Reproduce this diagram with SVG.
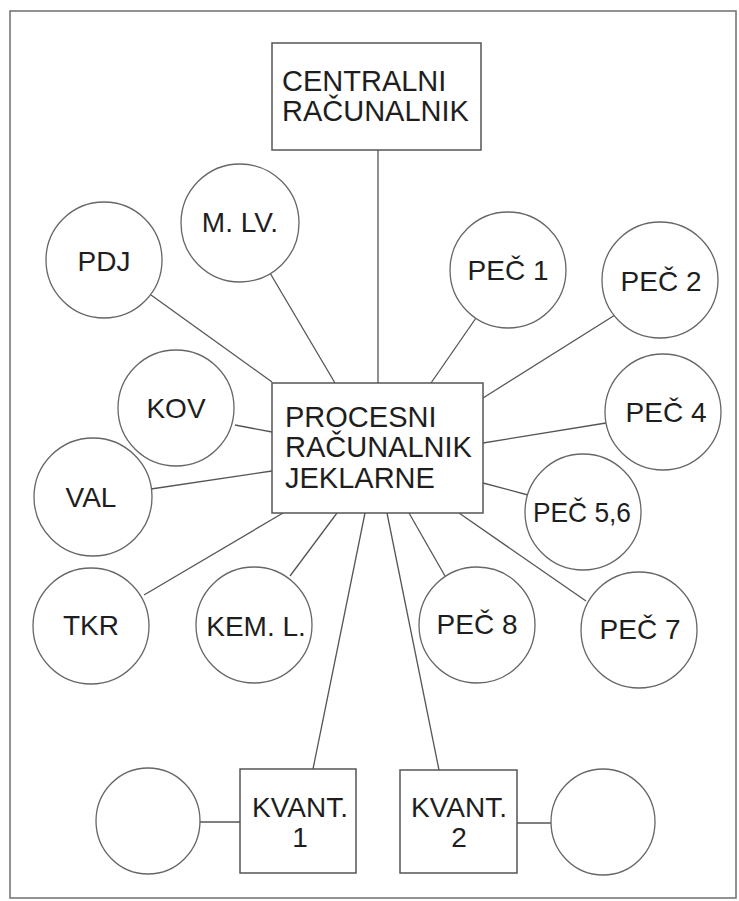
<svg xmlns="http://www.w3.org/2000/svg" width="739" height="901" viewBox="0 0 739 901">
<style>
.frame{fill:none;stroke:#777;stroke-width:1.6}
.box{fill:#fff;stroke:#555;stroke-width:1.5}
.node{fill:#fff;stroke:#666;stroke-width:1.3}
.conn line{stroke:#555;stroke-width:1.3}
text{font-family:"Liberation Sans",Arial,sans-serif;font-size:28px;fill:#1e1e1e}
.c{text-anchor:middle}
.big{font-size:29px}
</style>
<rect width="739" height="901" fill="#fff"/>
<rect class="frame" x="10" y="11" width="726" height="887"/>
<g id="connectors" class="conn">
<line x1="378" y1="150" x2="378" y2="383"/>
<line x1="151" y1="295" x2="272" y2="382"/>
<line x1="270" y1="273" x2="335" y2="383"/>
<line x1="476" y1="318" x2="431" y2="383"/>
<line x1="615" y1="315" x2="483" y2="398"/>
<line x1="235" y1="425" x2="272" y2="432"/>
<line x1="151" y1="489" x2="272" y2="471"/>
<line x1="606" y1="423" x2="483" y2="443"/>
<line x1="483" y1="483" x2="528" y2="495"/>
<line x1="283" y1="513" x2="144" y2="595"/>
<line x1="337" y1="513" x2="290" y2="576"/>
<line x1="365" y1="513" x2="313" y2="769"/>
<line x1="387" y1="513" x2="439" y2="770"/>
<line x1="409" y1="513" x2="445" y2="576"/>
<line x1="459" y1="513" x2="586" y2="601"/>
<line x1="200" y1="822" x2="240" y2="822"/>
<line x1="517" y1="823" x2="552" y2="823"/>
</g>
<g id="centralni"><rect class="box" x="272" y="43" width="209" height="107"/><text class="big" x="282" y="91">CENTRALNI</text><text class="big" x="282" y="121">RAČUNALNIK</text></g>
<g id="procesni"><rect class="box" x="272" y="383" width="211" height="130"/><text class="big" x="285" y="427">PROCESNI</text><text class="big" x="285" y="457">RAČUNALNIK</text><text class="big" x="285" y="488">JEKLARNE</text></g>
<g id="pdj"><circle class="node" cx="104" cy="260" r="58"/><text class="c" x="104" y="271">PDJ</text></g>
<g id="mlv"><circle class="node" cx="240" cy="223" r="59"/><text class="c" x="240" y="232">M. LV.</text></g>
<g id="pec1"><circle class="node" cx="508" cy="270" r="58"/><text class="c" x="508" y="280">PEČ 1</text></g>
<g id="pec2"><circle class="node" cx="660" cy="280" r="58"/><text class="c" x="661" y="291">PEČ 2</text></g>
<g id="kov"><circle class="node" cx="176" cy="408" r="58"/><text class="c" x="176" y="418">KOV</text></g>
<g id="val"><circle class="node" cx="93" cy="497" r="59"/><text class="c" x="91" y="507">VAL</text></g>
<g id="pec4"><circle class="node" cx="663" cy="412" r="58"/><text class="c" x="666" y="422">PEČ 4</text></g>
<g id="pec56"><circle class="node" cx="583" cy="512" r="58"/><text class="c" x="582" y="522" textLength="98" lengthAdjust="spacingAndGlyphs">PEČ 5,6</text></g>
<g id="tkr"><circle class="node" cx="91" cy="626" r="58"/><text class="c" x="91" y="635">TKR</text></g>
<g id="keml"><circle class="node" cx="254" cy="625" r="58"/><text class="c" x="256" y="636">KEM. L.</text></g>
<g id="pec8"><circle class="node" cx="477" cy="625" r="58"/><text class="c" x="477" y="634">PEČ 8</text></g>
<g id="pec7"><circle class="node" cx="639" cy="630" r="58"/><text class="c" x="640" y="639">PEČ 7</text></g>
<g id="kvant1"><rect class="box" x="240" y="769" width="116" height="104"/><text class="c" x="300" y="817">KVANT.</text><text class="c" x="300" y="847">1</text></g>
<g id="kvant2"><rect class="box" x="400" y="770" width="117" height="103"/><text class="c" x="459" y="817">KVANT.</text><text class="c" x="459" y="847">2</text></g>
<g id="blank1"><ellipse class="node" cx="148" cy="821" rx="52" ry="53"/></g>
<g id="blank2"><ellipse class="node" cx="603" cy="822" rx="52" ry="53"/></g>
</svg>
